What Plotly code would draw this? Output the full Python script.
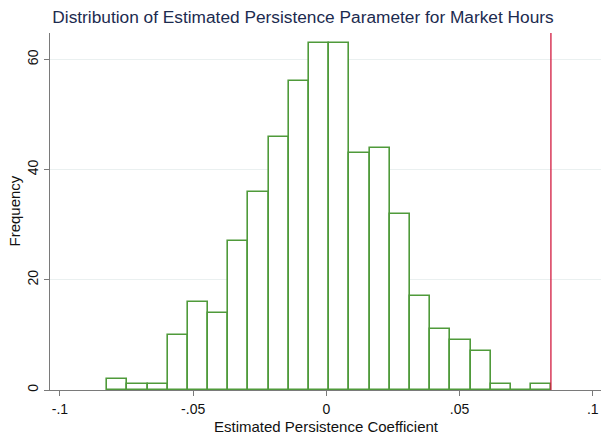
import plotly.graph_objects as go

# Histogram data
bin_start = -0.0823
bin_width = 0.00758
counts = [2, 1, 1, 10, 16, 14, 27, 36, 46, 56, 63, 63, 43, 44, 32, 17, 11, 9, 7, 1, 0, 1]
ref_line = 0.0843

x_ticks = [-0.1, -0.05, 0, 0.05, 0.1]
x_tick_labels = ["-.1", "-.05", "0", ".05", ".1"]
y_ticks = [0, 20, 40, 60]
y_tick_labels = ["0", "20", "40", "60"]

title_text = "Distribution of Estimated Persistence Parameter for Market Hours"
x_title = "Estimated Persistence Coefficient"
y_title = "Frequency"

centers = [bin_start + bin_width * (i + 0.5) for i in range(len(counts))]

W, H = 601, 434
ml, mr, mt, mb = 50, 0, 33, 44
FONT = "Liberation Sans, Arial, Helvetica, sans-serif"

fig = go.Figure()
fig.add_trace(go.Bar(
    x=centers, y=counts, width=[bin_width] * len(counts),
    marker=dict(color="white", line=dict(color="#4f9a3a", width=1.6)),
    hoverinfo="x+y", showlegend=False,
))

fig.add_shape(type="line", xref="x", yref="paper", x0=ref_line, x1=ref_line, y0=0, y1=1,
              line=dict(color="#d21a3e", width=1.3), layer="above")

pw = W - ml - mr
ph = H - mt - mb

fig.update_layout(
    width=W, height=H,
    margin=dict(l=ml, r=mr, t=mt, b=mb, pad=0),
    paper_bgcolor="white", plot_bgcolor="white",
    bargap=0,
    font=dict(family=FONT, size=14, color="#111111"),
    title=dict(text=title_text, xref="container", yref="container",
               x=303 / W, y=1 - 17 / H, xanchor="center", yanchor="middle",
               font=dict(family=FONT, size=17.3, color="#1c2b4f")),
    xaxis=dict(range=[-0.10375, 0.1031], tickvals=x_ticks, ticktext=x_tick_labels,
               showgrid=False, zeroline=False, showline=True, linecolor="#7a7a7a", linewidth=1.3,
               ticks="outside", ticklen=5, tickcolor="#7a7a7a", tickwidth=1.3,
               ticklabelstandoff=1,
               tickfont=dict(size=14, color="#111111")),
    yaxis=dict(range=[0, 64.8], tickvals=y_ticks, ticktext=y_tick_labels, tickangle=-90,
               showgrid=True, gridcolor="#eaf0f0", gridwidth=1, zeroline=False,
               showline=True, linecolor="#7a7a7a", linewidth=1.3,
               ticks="outside", ticklen=5, tickcolor="#7a7a7a", tickwidth=1.3,
               tickfont=dict(size=14, color="#111111")),
    annotations=[
        dict(text=x_title, xref="paper", yref="paper", x=(326 - ml) / pw, y=(390 - 426) / ph,
             xanchor="center", yanchor="middle", showarrow=False,
             font=dict(family=FONT, size=15, color="#111111")),
        dict(text=y_title, xref="paper", yref="paper", x=(14 - ml) / pw, y=0.5, textangle=-90,
             xanchor="center", yanchor="middle", showarrow=False,
             font=dict(family=FONT, size=15, color="#111111")),
    ],
)

fig.write_html("out.html", config={"displayModeBar": False},
               post_script="document.body.style.margin='0px';document.body.style.padding='0px';")
